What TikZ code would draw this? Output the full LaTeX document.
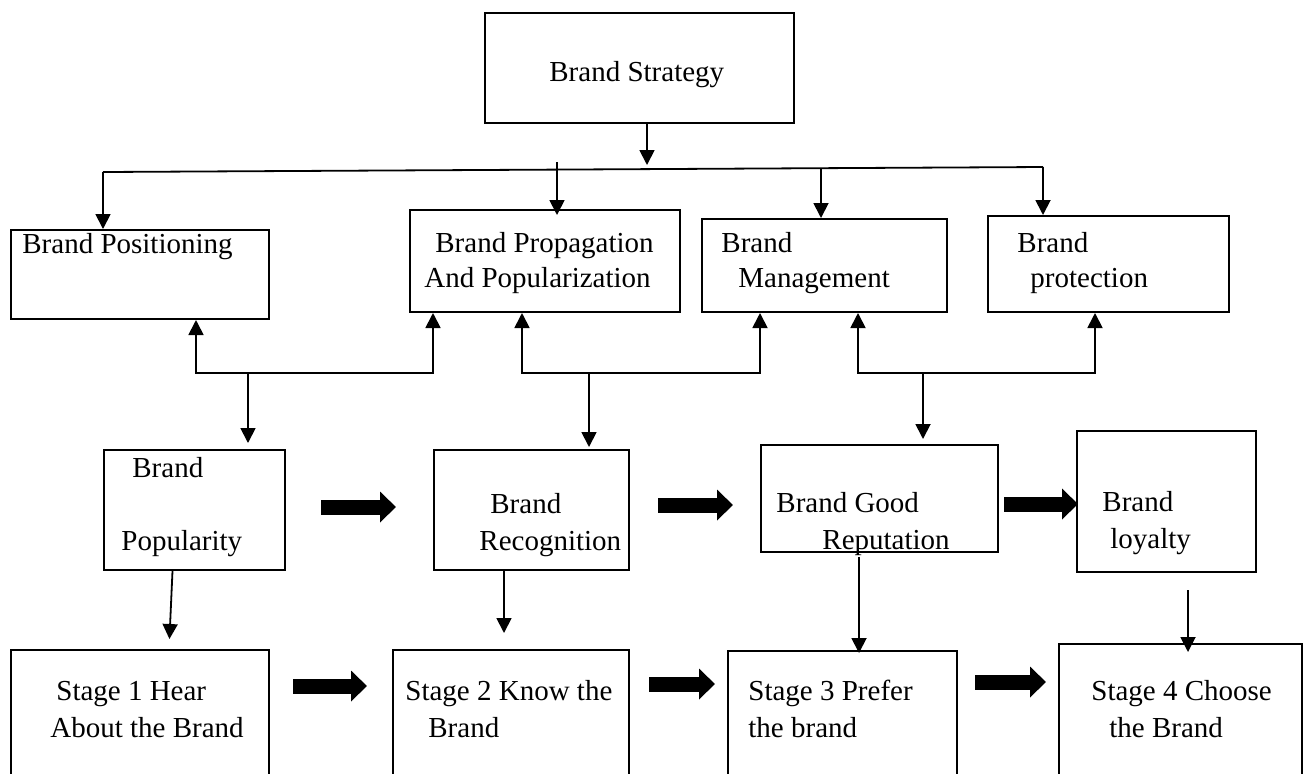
\documentclass[tikz,border=0pt]{standalone}
\usepackage{fontspec}
\setmainfont{Liberation Serif}
\usetikzlibrary{arrows.meta}

\begin{document}
\begin{tikzpicture}[x=0.5pt, y=-0.5pt,
        box/.style={draw, line width=1pt, anchor=north west, inner sep=0pt},
        sz/.style 2 args={minimum width=#1*0.5pt, minimum height=#2*0.5pt},
        txt/.style={anchor=base west, inner sep=0pt, align=left,
          font=\fontsize{14.5}{17.5}\selectfont},
        arr/.style={-{Triangle[length=7.5pt, width=7.5pt]}, line width=0.9pt},
        arrs/.style={{Triangle[length=7.5pt, width=7.5pt]}-{Triangle[length=7.5pt, width=7.5pt]},
          line width=0.9pt},
        fat/.style={-{Triangle[length=8pt, width=15pt]}, line width=7.5pt}]
      \useasboundingbox (0,0) rectangle (1306,773);
      \fill[white] (0,0) rectangle (1306,773);

      % boxes
      \node[box, sz={309}{110}] (strategy) at (484,12) {};
      \node[box, sz={258}{89}] (positioning) at (10,229) {};
      \node[box, sz={270}{102}] (propagation) at (409,209) {};
      \node[box, sz={245}{93}] (management) at (701,218) {};
      \node[box, sz={241}{96}] (protection) at (987,215) {};
      \node[box, sz={181}{120}] (popularity) at (103,449) {};
      \node[box, sz={195}{120}] (recognition) at (433,449) {};
      \node[box, sz={237}{107}] (reputation) at (760,444) {};
      \node[box, sz={179}{141}] (loyalty) at (1076,430) {};
      \node[box, sz={258}{150}] (stage1) at (10,649) {};
      \node[box, sz={236}{150}] (stage2) at (392,649) {};
      \node[box, sz={229}{150}] (stage3) at (727,650) {};
      \node[box, sz={243}{157}] (stage4) at (1058,643) {};

      % texts (base = last line)
      \node[txt] (strategy-t) at (549,81) {Brand Strategy};
      \node[txt] (positioning-t) at (22,253) {Brand Positioning};
      \node[txt] (propagation-t) at (424,287) {\hspace*{5.5pt}Brand Propagation\\And Popularization};
      \node[txt] (management-t) at (721,287) {Brand\\\hspace*{8.5pt}Management};
      \node[txt] (protection-t) at (1017,287) {Brand\\\hspace*{6.5pt}protection};
      \node[txt] (popularity-t) at (121,550) {\hspace*{5.5pt}Brand\\[19pt]Popularity};
      \node[txt] (recognition-t) at (479,550) {\hspace*{5.5pt}Brand\\[1pt]Recognition};
      \node[txt] (reputation-t) at (776,549) {Brand Good\\[1pt]\hspace*{23pt}Reputation};
      \node[txt] (loyalty-t) at (1102,548) {Brand\\[1pt]\hspace*{4pt}loyalty};
      \node[txt] (stage1-t) at (50,737) {\hspace*{3pt}Stage 1 Hear\\[1pt]About the Brand};
      \node[txt] (stage2-t) at (405,737) {Stage 2 Know the\\[1pt]\hspace*{11.5pt}Brand};
      \node[txt] (stage3-t) at (748,737) {Stage 3 Prefer\\[1pt]the brand};
      \node[txt] (stage4-t) at (1091,737) {Stage 4 Choose\\[1pt]\hspace*{9pt}the Brand};

      % strategy to the four parts
      \coordinate (hub) at (647,165);
      \coordinate (busL) at (103,172);
      \coordinate (busR) at (1043,167);
      \coordinate (d2) at (557,162);
      \coordinate (d3) at (821,168);
      \draw[arr] (strategy.south -| hub) -- (hub);
      \draw[line width=0.9pt] (busL) -- (busR);
      \draw[arr] (busL) -- (busL |- positioning.north);
      \draw[arr, shorten >=-3pt] (d2) -- (d2 |- propagation.north);
      \draw[arr] (d3) -- (d3 |- management.north);
      \draw[arr] (busR) -- (busR |- protection.north);

      % two-way links
      \coordinate (aL) at (196,373);
      \coordinate (aR) at (433,373);
      \coordinate (aM) at (248,373);
      \coordinate (bL) at (522,373);
      \coordinate (bR) at (760,373);
      \coordinate (bM) at (589,373);
      \coordinate (cL) at (858,373);
      \coordinate (cR) at (1095,373);
      \coordinate (cM) at (923,373);
      \draw[arrs] (positioning.south -| aL) -- (aL) -- (aR) -- (propagation.south -| aR);
      \draw[arrs] (propagation.south -| bL) -- (bL) -- (bR) -- (management.south -| bR);
      \draw[arrs] (management.south -| cL) -- (cL) -- (cR) -- (protection.south -| cR);
      \draw[arr, shorten >=3pt] (aM) -- (aM |- popularity.north);
      \draw[arr, shorten >=1pt] (bM) -- (bM |- recognition.north);
      \draw[arr, shorten >=2.5pt] (cM) -- (cM |- reputation.north);

      % down to the stages
      \draw[arr, shorten >=5pt] ([xshift=-11pt]popularity.south) -- ([xshift=14.5pt]stage1.north);
      \draw[arr, shorten >=8pt] ([xshift=-13.75pt]recognition.south) -- ([xshift=-3.5pt]stage2.north);
      \draw[arr, shorten <=2pt, shorten >=-1.5pt] ([xshift=-10.25pt]reputation.south) -- ([xshift=8.25pt]stage3.north);
      \draw[arr, shorten <=8.5pt, shorten >=-4.5pt] ([xshift=10.75pt]loyalty.south) -- ([xshift=3.75pt]stage4.north);

      % fat arrows
      \draw[fat, shorten <=17.5pt, shorten >=18.5pt] ([yshift=1.5pt]popularity.east) -- ([yshift=1.5pt]recognition.west);
      \draw[fat, shorten <=14pt, shorten >=13.5pt] ([yshift=2.5pt]recognition.east) -- ([yshift=-3.25pt]reputation.west);
      \draw[fat, shorten <=2.5pt, shorten >=-1pt] ([yshift=-2.75pt]reputation.east) -- ([yshift=-1.25pt]loyalty.west);
      \draw[fat, shorten <=11.5pt, shorten >=12.5pt] ([yshift=19.5pt]stage1.east) -- ([yshift=19.5pt]stage2.west);
      \draw[fat, shorten <=9.5pt, shorten >=6pt] ([yshift=20.5pt]stage2.east) -- ([yshift=21pt]stage3.west);
      \draw[fat, shorten <=8.5pt, shorten >=6pt] ([yshift=22pt]stage3.east) -- ([yshift=20.25pt]stage4.west);
    \end{tikzpicture}
\end{document}
